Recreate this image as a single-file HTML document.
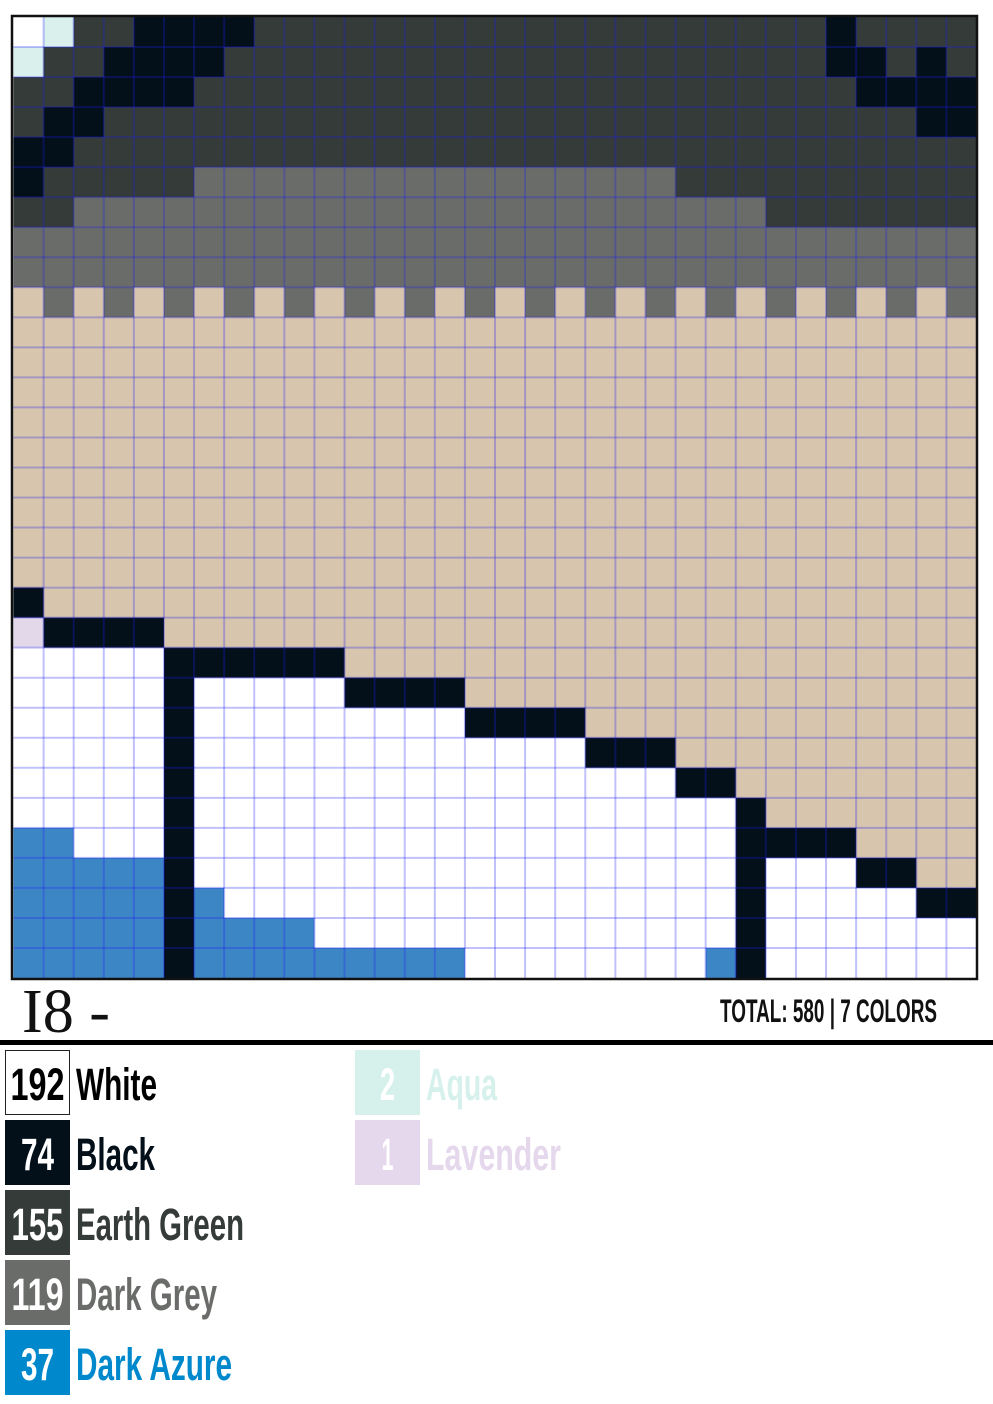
<!DOCTYPE html>
<html><head><meta charset="utf-8"><style>
html,body{margin:0;padding:0;background:#fff;}
svg{display:block;}
</style></head><body>
<svg id="chart" width="993" height="1404" viewBox="0 0 993 1404" xmlns="http://www.w3.org/2000/svg">
<rect x="0" y="0" width="993" height="1404" fill="#fff"/>
<g id="cells"></g>
<g id="gridlines"></g>
<rect x="12" y="16" width="965" height="963" fill="none" stroke="#111" stroke-width="2.5"/>
<text x="22" y="1032" font-family="Liberation Serif, serif" font-size="62" fill="#111" textLength="88" lengthAdjust="spacingAndGlyphs">I8 -</text>
<text x="720" y="1022" font-family="Liberation Sans, sans-serif" font-weight="bold" font-size="32" fill="#111" textLength="217" lengthAdjust="spacingAndGlyphs">TOTAL: 580 | 7 COLORS</text>
<rect x="0" y="1040" width="993" height="5" fill="#000"/>
<g id="legend"></g>
</svg>
<script>
// palette keys: W white, A aqua, L lavender, E earth green, B black, D dark grey, Z dark azure, T beige (background)
const colorKeys = ['W','A','L','E','B','D','Z','T'];
const colorValues = ['#ffffff','#d9f0ec','#e3d8ea','#343b38','#03101a','#6a6c69','#3d86c6','#d8c5ad'];
const rows = [
"WAEEBBBBEEEEEEEEEEEEEEEEEEEBEEEE",
"AEEBBBBEEEEEEEEEEEEEEEEEEEEBBEBE",
"EEBBBBEEEEEEEEEEEEEEEEEEEEEEBBBB",
"EBBEEEEEEEEEEEEEEEEEEEEEEEEEEEBB",
"BBEEEEEEEEEEEEEEEEEEEEEEEEEEEEEE",
"BEEEEEDDDDDDDDDDDDDDDDEEEEEEEEEE",
"EEDDDDDDDDDDDDDDDDDDDDDDDEEEEEEE",
"DDDDDDDDDDDDDDDDDDDDDDDDDDDDDDDD",
"DDDDDDDDDDDDDDDDDDDDDDDDDDDDDDDD",
"TDTDTDTDTDTDTDTDTDTDTDTDTDTDTDTD",
"TTTTTTTTTTTTTTTTTTTTTTTTTTTTTTTT",
"TTTTTTTTTTTTTTTTTTTTTTTTTTTTTTTT",
"TTTTTTTTTTTTTTTTTTTTTTTTTTTTTTTT",
"TTTTTTTTTTTTTTTTTTTTTTTTTTTTTTTT",
"TTTTTTTTTTTTTTTTTTTTTTTTTTTTTTTT",
"TTTTTTTTTTTTTTTTTTTTTTTTTTTTTTTT",
"TTTTTTTTTTTTTTTTTTTTTTTTTTTTTTTT",
"TTTTTTTTTTTTTTTTTTTTTTTTTTTTTTTT",
"TTTTTTTTTTTTTTTTTTTTTTTTTTTTTTTT",
"BTTTTTTTTTTTTTTTTTTTTTTTTTTTTTTT",
"LBBBBTTTTTTTTTTTTTTTTTTTTTTTTTTT",
"WWWWWBBBBBBTTTTTTTTTTTTTTTTTTTTT",
"WWWWWBWWWWWBBBBTTTTTTTTTTTTTTTTT",
"WWWWWBWWWWWWWWWBBBBTTTTTTTTTTTTT",
"WWWWWBWWWWWWWWWWWWWBBBTTTTTTTTTT",
"WWWWWBWWWWWWWWWWWWWWWWBBTTTTTTTT",
"WWWWWBWWWWWWWWWWWWWWWWWWBTTTTTTT",
"ZZWWWBWWWWWWWWWWWWWWWWWWBBBBTTTT",
"ZZZZZBWWWWWWWWWWWWWWWWWWBWWWBBTT",
"ZZZZZBZWWWWWWWWWWWWWWWWWBWWWWWBB",
"ZZZZZBZZZZWWWWWWWWWWWWWWBWWWWWWW",
"ZZZZZBZZZZZZZZZWWWWWWWWZBWWWWWWW"
];
const legendCounts = ['192','74','155','119','37','2','1'];
const legendNames = ['White','Black','Earth Green','Dark Grey','Dark Azure','Aqua','Lavender'];

const NS='http://www.w3.org/2000/svg';
const gx0=13.5, gy0=17, cw=(976.5-13.5)/32, ch=(978-17)/32;
const xAt=c=>gx0+c*cw, yAt=r=>gy0+r*ch;
const cells=document.getElementById('cells');
rows.forEach((row,r)=>{
  for(let c=0;c<row.length;c++){
    const el=document.createElementNS(NS,'rect');
    el.setAttribute('x',xAt(c));el.setAttribute('y',yAt(r));
    el.setAttribute('width',cw+0.6);el.setAttribute('height',ch+0.6);
    el.setAttribute('fill',colorValues[colorKeys.indexOf(row[c])]);
    
    
    cells.appendChild(el);
  }
});
const gl=document.getElementById('gridlines');
for(let i=1;i<32;i++){
  const v=document.createElementNS(NS,'line');
  v.setAttribute('x1',xAt(i));v.setAttribute('x2',xAt(i));v.setAttribute('y1',yAt(0));v.setAttribute('y2',yAt(32));
  v.setAttribute('stroke','rgba(30,30,240,0.28)');v.setAttribute('stroke-width','2');
  
  
  gl.appendChild(v);
  const h=document.createElementNS(NS,'line');
  h.setAttribute('y1',yAt(i));h.setAttribute('y2',yAt(i));h.setAttribute('x1',xAt(0));h.setAttribute('x2',xAt(32));
  h.setAttribute('stroke','rgba(30,30,240,0.28)');h.setAttribute('stroke-width','2');
  
  
  gl.appendChild(h);
}
// legend
const lg=document.getElementById('legend');
const swColors=['#ffffff','#03101a','#343b38','#6a6c69','#0088cc','#d6f1ec','#e5d7ec'];
const nameColors=['#000','#03101a','#343b38','#6a6c69','#0088cc','#d6f1ec','#e5d7ec'];
const numW=[54,33,52,52,33,15,12];
const nameW=[81,79,168,141,156,71,135];
for(let i=0;i<legendNames.length;i++){
  const col=i<5?0:1, row=i<5?i:i-5;
  const bx=col?355:5, by=1050+row*70;
  const g=document.createElementNS(NS,'g');
  
  
  const sw=document.createElementNS(NS,'rect');
  sw.setAttribute('x',bx+(i===0?0.5:0));sw.setAttribute('y',by+(i===0?0.5:0));sw.setAttribute('width',i===0?64:65);sw.setAttribute('height',i===0?64:65);
  sw.setAttribute('fill',swColors[i]);
  if(i===0){sw.setAttribute('stroke','#222');sw.setAttribute('stroke-width','1');}
  
  
  g.appendChild(sw);
  const n=document.createElementNS(NS,'text');
  n.setAttribute('x',bx+32.5);n.setAttribute('y',by+50);n.setAttribute('text-anchor','middle');
  n.setAttribute('font-family','Liberation Sans, sans-serif');n.setAttribute('font-weight','bold');n.setAttribute('font-size','45');
  n.setAttribute('fill',i===0?'#000':'#fff');
  n.setAttribute('textLength',numW[i]);n.setAttribute('lengthAdjust','spacingAndGlyphs');
  n.textContent=legendCounts[i];
  
  
  g.appendChild(n);
  const t=document.createElementNS(NS,'text');
  t.setAttribute('x',bx+71);t.setAttribute('y',by+50);
  t.setAttribute('font-family','Liberation Sans, sans-serif');t.setAttribute('font-weight','bold');t.setAttribute('font-size','45');
  t.setAttribute('fill',nameColors[i]);
  t.setAttribute('textLength',nameW[i]);t.setAttribute('lengthAdjust','spacingAndGlyphs');
  t.textContent=legendNames[i];
  
  
  g.appendChild(t);
  lg.appendChild(g);
}
</script>
</body></html>
